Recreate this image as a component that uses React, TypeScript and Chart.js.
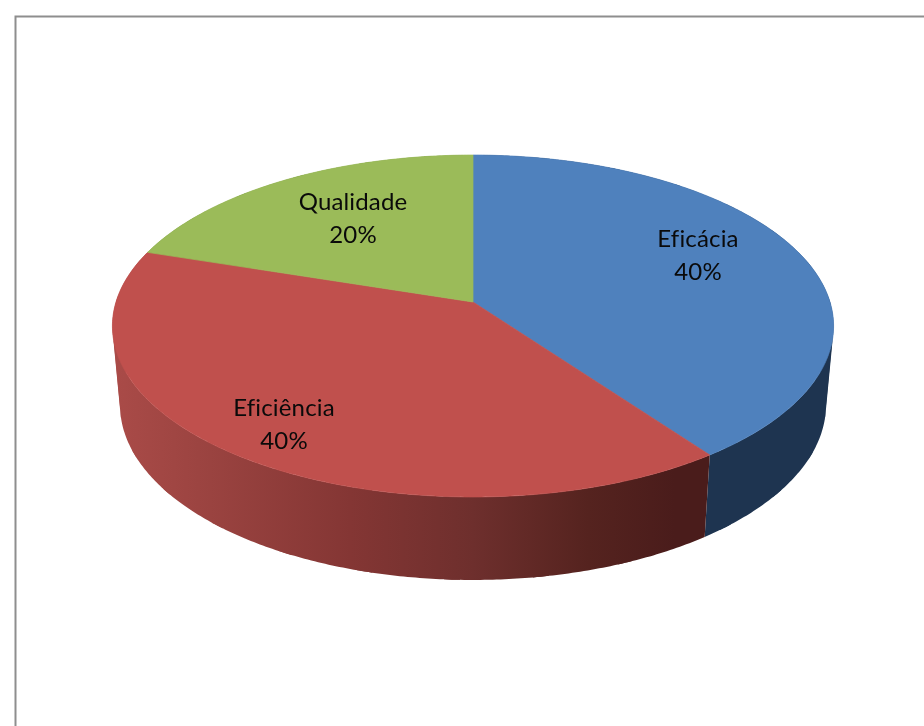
import React, { useEffect, useRef } from "react";
import { Chart, registerables } from "chart.js";

Chart.register(...registerables);

const categories = ["Eficácia", "Eficiência", "Qualidade"];
const shares = [40, 40, 20];
const percentLabels = ["40%", "40%", "20%"];
const faceColors = ["#4F81BD", "#C0504D", "#9BBB59"];

const WIDTH = 924;
const HEIGHT = 726;
const FONT = '24px Lato, "Open Sans", sans-serif';

// Perspective of the disc: the top rim and the lower rim of the pie.
const topRim = { yOffset: -61, a: 167.6, c: -0.1404, d: 357 };
const lowerRim = { yOffset: 17.4, a: 171.6, c: -0.14, d: 349.5 };

// Wall shading of each slice along x (offset, colour).
const wallShades: [number, string][][] = [
  [[0, "#1E3450"], [1, "#1E3450"]],
  [
    [0, "#AA4B48"],
    [0.12, "#9C4441"],
    [0.33, "#843634"],
    [0.5, "#6E2F2D"],
    [0.66, "#55231F"],
    [0.78, "#4A1C1B"],
    [1, "#4A1C1B"],
  ],
  [[0, "#6F8A3E"], [1, "#6F8A3E"]],
];

// Label centres relative to the pie centre.
const labelOffsets = [
  { x: 225, y: -107 },
  { x: -189, y: 62 },
  { x: -120, y: -144 },
];
const LINE_GAP = 32.5;

type Rim = typeof topRim;

function project(arc: any, rim: Rim, angle: number) {
  const u = Math.cos(angle);
  const v = Math.sin(angle);
  const w = 1 + rim.c * v;
  return { x: arc.x + (rim.d * u) / w, y: arc.y + rim.yOffset + (rim.a * v) / w };
}

function arcSteps(start: number, end: number) {
  const n = Math.max(2, Math.ceil((end - start) / 0.01));
  const out: number[] = [];
  for (let i = 0; i <= n; i++) out.push(start + ((end - start) * i) / n);
  return out;
}

const projectedPie = {
  id: "projectedPie",
  beforeDraw(chart: any) {
    const { ctx } = chart;
    ctx.save();
    ctx.fillStyle = "#FFFFFF";
    ctx.fillRect(0, 0, WIDTH, HEIGHT);
    ctx.strokeStyle = "#8E8E8E";
    ctx.lineWidth = 2;
    ctx.beginPath();
    ctx.moveTo(15.5, HEIGHT);
    ctx.lineTo(15.5, 16.5);
    ctx.lineTo(WIDTH, 16.5);
    ctx.stroke();
    ctx.restore();
  },
  beforeDatasetDraw(chart: any) {
    const { ctx } = chart;
    const arcs = chart.getDatasetMeta(0).data;
    ctx.save();

    // Side walls, back to front, as overlapping bands.
    const order = [2, 0, 1];
    const CHUNK = 0.22;
    const OVERLAP = 0.04;
    order.forEach((i) => {
      const arc = arcs[i];
      const g = ctx.createLinearGradient(arc.x - 361, 0, arc.x + 361, 0);
      wallShades[i].forEach(([o, c]) => g.addColorStop(o, c));
      ctx.fillStyle = g;
      for (let s = arc.startAngle; s < arc.endAngle; s += CHUNK) {
        const steps = arcSteps(s, Math.min(arc.endAngle, s + CHUNK + OVERLAP));
        ctx.beginPath();
        steps.forEach((t, k) => {
          const p = project(arc, topRim, t);
          if (k === 0) ctx.moveTo(p.x, p.y);
          else ctx.lineTo(p.x, p.y);
        });
        steps
          .slice()
          .reverse()
          .forEach((t) => {
            const p = project(arc, lowerRim, t);
            ctx.lineTo(p.x, p.y);
          });
        ctx.closePath();
        ctx.fill();
      }
    });

    // Top faces.
    arcs.forEach((arc: any, i: number) => {
      ctx.beginPath();
      ctx.moveTo(arc.x, arc.y + topRim.yOffset);
      arcSteps(arc.startAngle, arc.endAngle).forEach((t) => {
        const p = project(arc, topRim, t);
        ctx.lineTo(p.x, p.y);
      });
      ctx.closePath();
      ctx.fillStyle = faceColors[i];
      ctx.strokeStyle = faceColors[i];
      ctx.lineWidth = 0.7;
      ctx.fill();
      ctx.stroke();
    });

    // Data labels.
    ctx.fillStyle = "#0A0A0A";
    ctx.font = FONT;
    ctx.letterSpacing = "0.15px";
    ctx.textAlign = "center";
    ctx.textBaseline = "middle";
    arcs.forEach((arc: any, i: number) => {
      const cx = arc.x + labelOffsets[i].x;
      const cy = arc.y + labelOffsets[i].y;
      ctx.fillText(categories[i], cx, cy - LINE_GAP / 2);
      ctx.fillText(percentLabels[i], cx, cy + LINE_GAP / 2);
    });

    ctx.restore();
    return false;
  },
};

export default function App() {
  const ref = useRef<HTMLCanvasElement | null>(null);

  useEffect(() => {
    document.body.style.margin = "0";
    const chart = new Chart(ref.current as HTMLCanvasElement, {
      type: "pie",
      data: {
        labels: categories,
        datasets: [{ data: shares, backgroundColor: faceColors, borderWidth: 0 }],
      },
      options: {
        animation: false,
        responsive: false,
        maintainAspectRatio: false,
        devicePixelRatio: 1,
        layout: { padding: { left: 22, right: 0, top: 0, bottom: 0 } },
        plugins: { legend: { display: false }, tooltip: { enabled: false } },
      },
      plugins: [projectedPie],
    } as any);
    return () => chart.destroy();
  }, []);

  return (
    <div style={{ position: "fixed", left: 0, top: 0, width: WIDTH, height: HEIGHT, overflow: "hidden" }}>
      <canvas
        ref={ref}
        width={WIDTH}
        height={HEIGHT}
        style={{ display: "block", width: WIDTH, height: HEIGHT, filter: "blur(0.5px)" }}
      />
    </div>
  );
}
